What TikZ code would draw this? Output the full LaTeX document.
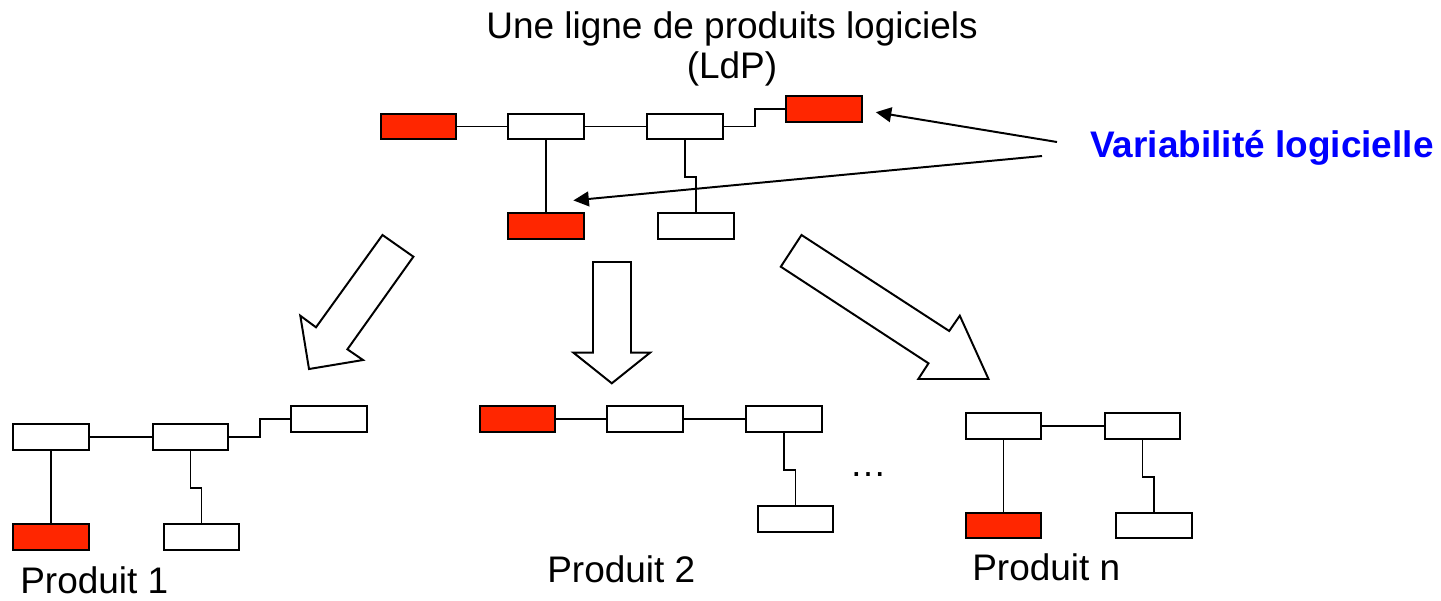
\documentclass[tikz,border=0pt]{standalone}
\usepackage{fontspec}
\setmainfont{Liberation Sans}
\usepackage{xcolor}
\usepackage{tikz}
\usetikzlibrary{arrows.meta}
\usetikzlibrary{positioning}
\definecolor{ldpred}{RGB}{255,38,0}
\definecolor{ldpblue}{RGB}{0,0,255}
\tikzset{
comp/.style = { rectangle, draw = black, fill = white, line width = 1.4pt, minimum width = 18.8mm, minimum height = 6.3mm, inner sep = 0pt },
var comp/.style = { comp, fill = ldpred },
link/.style = { draw = black, line width = 1.4pt },
pointer/.style = { draw = black, line width = 1.4pt, -{Triangle[length = 11pt, width = 10.5pt]} },
fat arrow/.style = { draw = black, fill = white, line width = 1.4pt, line join = miter },
txt/.style = { font = \fontsize{26.3}{31}\selectfont, inner sep = 0pt },
}

\begin{document}
\begin{tikzpicture}[x = 0.025cm, y = -0.025cm]
    \useasboundingbox (0, 0) rectangle (1441, 600);
    \node[txt, anchor = base] (ldp title) at (732, 38) {Une ligne de produits logiciels};
    \node[txt, anchor = base] (ldp abbr) at (732, 78) {(LdP)};
    \node[txt, anchor = base west, text = ldpblue, font = \fontsize{26.3}{31}\selectfont\bfseries] (vl) at (1090, 157) {Variabilité logicielle};
    \node[var comp] (t1) at (418.5, 126.5) {};
    \node[comp] (t2) at (546, 126.5) {};
    \node[comp] (t3) at (685, 126.5) {};
    \node[var comp] (t4) at (824, 109) {};
    \node[var comp] (t5) at (546, 226) {};
    \node[comp] (t6) at (696, 226) {};
    \draw[link] (t1) -- (t2);
    \draw[link] (t2) -- (t3);
    \draw[link] (t3.east) -- ++(31, 0) |- (t4.west);
    \draw[link] (t2) -- (t5);
    \draw[link] (t3.south) -- ++(0, 37) -| (t6.north);
    \coordinate (vl a) at (1057, 142);
    \coordinate (vl b) at (1042, 156);
    \draw[pointer] (vl a) -- ([xshift = 0.33cm, yshift = -0.08cm]t4.east);
    \draw[pointer] (vl b) -- ([xshift = -0.28cm, yshift = 0.3cm]t5.north east);
    \draw[fat arrow] (382.5, 235) -- (413.4, 256.7) -- (347.4, 349.3) -- (363, 360) -- (309, 369) -- (300.3, 315.7) -- (316, 327.3) -- cycle;
    \draw[fat arrow] (593, 262) -- (631, 262) -- (631, 352.7) -- (650, 352.7) -- (611.8, 383.3) -- (573.5, 352.7) -- (593, 352.7) -- cycle;
    \draw[fat arrow] (801.5, 235) -- (780.8, 266.7) -- (928.5, 363.3) -- (918.3, 379) -- (988.5, 379) -- (959.8, 315.7) -- (949.2, 331) -- cycle;
    \node[comp] (a1) at (51, 437) {};
    \node[comp] (a2) at (190.5, 437) {};
    \node[comp] (a3) at (329, 419) {};
    \node[var comp] (a4) at (51, 537) {};
    \node[comp] (a5) at (201.5, 537) {};
    \draw[link] (a1) -- (a2);
    \draw[link] (a2.east) -- ++(31, 0) |- (a3.west);
    \draw[link] (a1) -- (a4);
    \draw[link] (a2.south) -- ++(0, 37) -| (a5.north);
    \node[txt, anchor = base west] (p1) at (20, 593) {Produit 1};
    \node[var comp] (b1) at (517.5, 419) {};
    \node[comp] (b2) at (645, 419) {};
    \node[comp] (b3) at (784, 419) {};
    \node[comp] (b4) at (795.5, 519) {};
    \draw[link] (b1) -- (b2);
    \draw[link] (b2) -- (b3);
    \draw[link] (b3.south) -- ++(0, 37) -| (b4.north);
    \node[txt, anchor = base west] (p2) at (547, 582) {Produit 2};
    \node[txt, anchor = base] (dots) at (868, 476) {…};
    \node[comp] (c1) at (1003.5, 426) {};
    \node[comp] (c2) at (1142.5, 426) {};
    \node[var comp] (c3) at (1003.5, 525.5) {};
    \node[comp] (c4) at (1154, 525.5) {};
    \draw[link] (c1) -- (c2);
    \draw[link] (c1) -- (c3);
    \draw[link] (c2.south) -- ++(0, 37) -| (c4.north);
    \node[txt, anchor = base west] (pn) at (972, 580) {Produit n};
\end{tikzpicture}
\end{document}
